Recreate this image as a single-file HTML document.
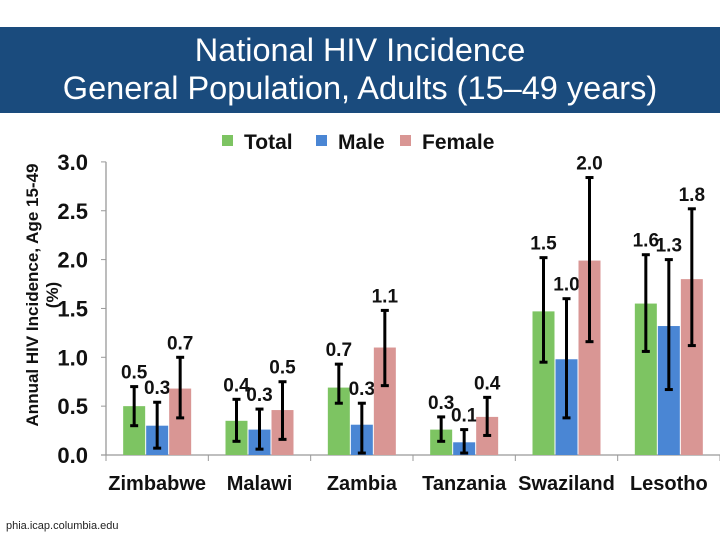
<!DOCTYPE html>
<html><head><meta charset="utf-8"><style>
body{margin:0;width:720px;height:540px;background:#fff;overflow:hidden;font-family:"Liberation Sans",sans-serif;}
#hdr{position:absolute;left:0;top:27px;width:720px;height:86px;background:#1a4b7d;color:#fff;text-align:center;font-size:32.5px;line-height:38px;padding-top:4px;box-sizing:border-box;}
#src{position:absolute;left:6px;top:520px;font-size:11px;color:#222;}
svg{position:absolute;left:0;top:0;}
</style></head><body>
<div id="hdr">National HIV Incidence<br>General Population, Adults (15–49 years)</div>
<div id="src">phia.icap.columbia.edu</div>
<svg id="chart" width="720" height="540"></svg>
<script>
const categories=["Zimbabwe","Malawi","Zambia","Tanzania","Swaziland","Lesotho"];
const seriesNames=["Total","Male","Female"];
const totalVals=[0.5,0.35,0.69,0.26,1.47,1.55];
const maleVals=[0.3,0.26,0.31,0.13,0.98,1.32];
const femaleVals=[0.68,0.46,1.1,0.39,1.99,1.8];
const totalLo=[0.3,0.14,0.53,0.14,0.95,1.06];
const totalHi=[0.7,0.57,0.93,0.39,2.02,2.05];
const maleLo=[0.07,0.06,0.02,0.02,0.38,0.67];
const maleHi=[0.54,0.47,0.53,0.26,1.6,2.0];
const femaleLo=[0.38,0.16,0.71,0.2,1.16,1.12];
const femaleHi=[1.0,0.75,1.48,0.59,2.84,2.52];
const totalLabels=["0.5","0.4","0.7","0.3","1.5","1.6"];
const maleLabels=["0.3","0.3","0.3","0.1","1.0","1.3"];
const femaleLabels=["0.7","0.5","1.1","0.4","2.0","1.8"];
const yTicks=[0,0.5,1.0,1.5,2.0,2.5,3.0];
const NS="http://www.w3.org/2000/svg";
const svg=document.getElementById('chart');
const x0=106,x1=720,yBase=455,pxPerUnit=97.7;
const catW=(x1-x0)/categories.length;
const y=v=>yBase-v*pxPerUnit;
const cx=i=>x0+catW*(i+0.5);
function mk(t,a,p){const e=document.createElementNS(NS,t);for(const k in a)e.setAttribute(k,a[k]);(p||svg).appendChild(e);return e;}
const colors=["#7dc462","#4a86d4","#d99694"];
const vals=[totalVals,maleVals,femaleVals],los=[totalLo,maleLo,femaleLo],his=[totalHi,maleHi,femaleHi],labs=[totalLabels,maleLabels,femaleLabels];
let ax=mk('line',{x1:x0,y1:y(3),x2:x0,y2:yBase,stroke:'#999','stroke-width':1.3});

let bx=mk('line',{x1:x0-5,y1:yBase,x2:x1,y2:yBase,stroke:'#999','stroke-width':1.3});

yTicks.forEach(v=>{
 let t=mk('line',{x1:x0-5,y1:y(v),x2:x0,y2:y(v),stroke:'#999'});
 
 let l=mk('text',{x:88,y:y(v)+8,'text-anchor':'end','font-size':22,'font-weight':'bold',fill:'#111'});
 l.textContent=v.toFixed(1);
 
});
for(let i=0;i<=categories.length;i++){
 let t=mk('line',{x1:x0+catW*i,y1:yBase,x2:x0+catW*i,y2:yBase+6,stroke:'#999'});
 
}
categories.forEach((c,i)=>{
 let l=mk('text',{x:cx(i),y:490,'text-anchor':'middle','font-size':20,'font-weight':'bold',fill:'#111'});
 l.textContent=c;
 
 for(let s=0;s<3;s++){
  const bxp=cx(i)+(s-1)*23;
  let r=mk('rect',{x:bxp-11,y:y(vals[s][i]),width:22,height:vals[s][i]*pxPerUnit,fill:colors[s]});
  
  
  const g=mk('g',{stroke:'#000','stroke-width':3});
  
  mk('line',{x1:bxp,y1:y(los[s][i]),x2:bxp,y2:y(his[s][i])},g);
  mk('line',{x1:bxp-4,y1:y(los[s][i]),x2:bxp+4,y2:y(los[s][i])},g);
  mk('line',{x1:bxp-4,y1:y(his[s][i]),x2:bxp+4,y2:y(his[s][i])},g);
  let dl=mk('text',{x:bxp,y:y(his[s][i])-8,'text-anchor':'middle','font-size':19,'font-weight':'bold',fill:'#111'});
  dl.textContent=labs[s][i];
  
 }
});
const legX=[222,316,400];
seriesNames.forEach((n,s)=>{
 let r=mk('rect',{x:legX[s],y:135,width:11,height:11,fill:colors[s]});
 
 let t=mk('text',{x:legX[s]+22,y:149,'font-size':21,'font-weight':'bold',fill:'#111'});
 t.textContent=n;
 
});
let yt=mk('text',{transform:'translate(38,295) rotate(-90)','text-anchor':'middle','font-size':17,'font-weight':'bold',fill:'#111'});

let t1=mk('tspan',{x:0,y:0},yt);t1.textContent='Annual HIV Incidence,  Age 15-49';
let t2=mk('tspan',{x:0,y:20},yt);t2.textContent='(%)';
</script>
</body></html>
